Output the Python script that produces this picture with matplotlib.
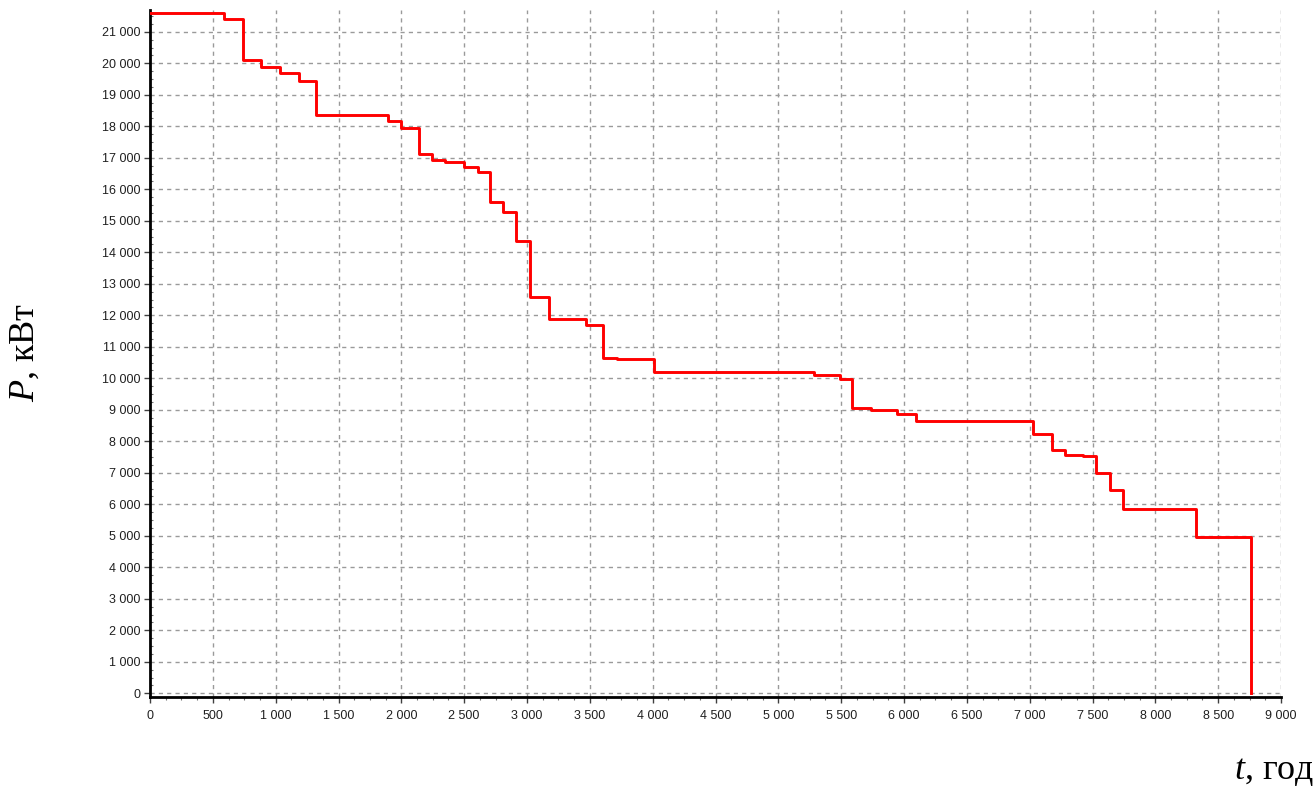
import matplotlib
matplotlib.use("Agg")
import matplotlib.pyplot as plt
from matplotlib.ticker import MultipleLocator, FuncFormatter

# Дані: межі ступенів (години) та рівні потужності (кВт)
hours = [0, 590, 740, 886, 1032, 1183, 1321, 1897, 1997, 2143, 2248, 2347, 2495,
         2608, 2706, 2812, 2915, 3024, 3172, 3469, 3601, 3713, 4011, 5284, 5491,
         5589, 5738, 5944, 6093, 7027, 7177, 7281, 7422, 7530, 7636, 7740, 8323, 8760]
power = [21600, 21400, 20100, 19870, 19680, 19450, 18370, 18180, 17950, 17110,
         16920, 16860, 16720, 16550, 15600, 15270, 14360, 12570, 11880, 11700,
         10660, 10610, 10190, 10120, 9970, 9070, 9000, 8880, 8630, 8220,
         7740, 7580, 7540, 6980, 6440, 5840, 4970]
power_end = 0

plt.rcParams["mathtext.fontset"] = "custom"
plt.rcParams["mathtext.rm"] = "Liberation Serif"
plt.rcParams["mathtext.it"] = "Liberation Serif:italic"

fig = plt.figure(figsize=(13.15, 7.96), dpi=100)
ax = fig.add_axes([150 / 1315, 1 - 696.5 / 796, (1281 - 150) / 1315, (696.5 - 9.7) / 796])

# Ступінчастий графік
ax.step(hours, power + [power_end], where="post", color="red", lw=2.1, zorder=3)

ax.set_xlim(0, 9000)
ax.set_ylim(-100, 21700)

ax.xaxis.set_major_locator(MultipleLocator(500))
ax.xaxis.set_minor_locator(MultipleLocator(125))
ax.yaxis.set_major_locator(MultipleLocator(1000))
ax.yaxis.set_minor_locator(MultipleLocator(250))

fmt = FuncFormatter(lambda v, pos: f"{int(round(v)):,}".replace(",", " "))
ax.xaxis.set_major_formatter(fmt)
ax.yaxis.set_major_formatter(fmt)

for lab in ax.get_xticklabels() + ax.get_yticklabels():
    lab.set_fontfamily("Liberation Sans")
ax.tick_params(axis="both", which="major", labelsize=9, length=4, width=1,
               colors="#404040", labelcolor="#202020")
ax.tick_params(axis="x", which="minor", length=2.5, width=0.8, colors="#707070")
ax.tick_params(axis="y", which="minor", length=2.5, width=0.8, colors="#707070",
               direction="in")
ax.tick_params(axis="x", pad=6)
ax.tick_params(axis="y", pad=3)

# Сітка
ax.grid(True, which="major", color="#9a9a9a", linestyle=(0, (3, 3)), lw=1)

for s in ["top", "right"]:
    ax.spines[s].set_visible(False)
for s in ["left", "bottom"]:
    ax.spines[s].set_linewidth(2)
    ax.spines[s].set_color("black")

# Підписи осей
fig.text(25 / 1315, 1 - 352 / 796, r"$\mathit{P}$, кВт", rotation=90,
         ha="center", va="center", fontsize=26, family="Liberation Serif")
fig.text(1314 / 1315, 1 - 771 / 796, r"$\mathit{t}$, год",
         ha="right", va="center", fontsize=26, family="Liberation Serif")

fig.savefig("out.png", dpi=100)
